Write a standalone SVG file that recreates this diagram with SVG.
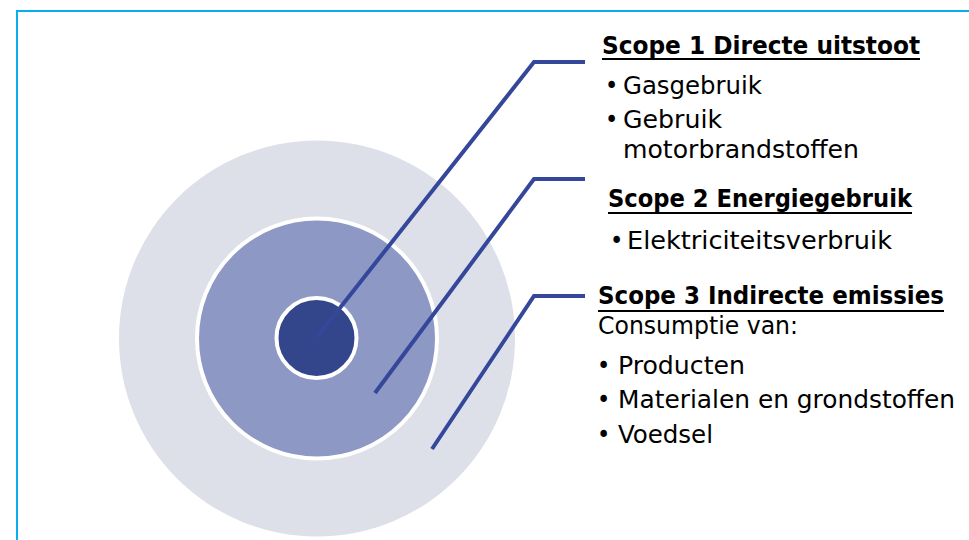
<svg xmlns="http://www.w3.org/2000/svg" width="969" height="540" viewBox="0 0 969 540">
  <style>
    .t{font-family:"DejaVu Sans Condensed","DejaVu Sans",Verdana,sans-serif;font-size:25px;fill:#000}
    .b{font-weight:bold}
    .ul{stroke:#000;stroke-width:2}
    .conn{fill:none;stroke:#34479A;stroke-width:4;stroke-linejoin:miter}
  </style>
  <rect x="0" y="0" width="969" height="540" fill="#fff"/>
  <rect x="17" y="11" width="1000" height="600" fill="none" stroke="#0AAEEF" stroke-width="2"/>
  <g id="scope3-ring"><circle cx="317" cy="338.5" r="198" fill="#DDE0E8"/></g>
  <g id="scope2-ring"><circle cx="317" cy="338.5" r="120" fill="#8E98C4" stroke="#fff" stroke-width="4"/></g>
  <g id="scope1-core"><circle cx="316.5" cy="338" r="40" fill="#33468C" stroke="#fff" stroke-width="4"/></g>
  <g id="connectors">
    <polyline class="conn" points="317,337 534,62 585,62"/>
    <polyline class="conn" points="375,393 534,179 585,179"/>
    <polyline class="conn" points="432,449 534,296 585,296"/>
  </g>
  <g id="scope1-label">
    <text class="t b" x="602" y="54" textLength="318" lengthAdjust="spacingAndGlyphs">Scope 1 Directe uitstoot</text>
    <line class="ul" x1="602" y1="59" x2="920" y2="59"/>
    <text class="t" x="605" y="94">•</text>
    <text class="t" x="623" y="94" textLength="139" lengthAdjust="spacingAndGlyphs">Gasgebruik</text>
    <text class="t" x="605" y="128">•</text>
    <text class="t" x="623" y="128" textLength="99" lengthAdjust="spacingAndGlyphs">Gebruik</text>
    <text class="t" x="623" y="158" textLength="236" lengthAdjust="spacingAndGlyphs">motorbrandstoffen</text>
  </g>
  <g id="scope2-label">
    <text class="t b" x="608" y="207" textLength="304" lengthAdjust="spacingAndGlyphs">Scope 2 Energiegebruik</text>
    <line class="ul" x1="608" y1="213" x2="912" y2="213"/>
    <text class="t" x="610" y="249">•</text>
    <text class="t" x="627" y="249" textLength="265" lengthAdjust="spacingAndGlyphs">Elektriciteitsverbruik</text>
  </g>
  <g id="scope3-label">
    <text class="t b" x="598" y="304" textLength="346" lengthAdjust="spacingAndGlyphs">Scope 3 Indirecte emissies</text>
    <line class="ul" x1="598" y1="311" x2="944" y2="311"/>
    <text class="t" x="598" y="334" textLength="200" lengthAdjust="spacingAndGlyphs">Consumptie van:</text>
    <text class="t" x="597" y="374">•</text>
    <text class="t" x="618" y="374" textLength="127" lengthAdjust="spacingAndGlyphs">Producten</text>
    <text class="t" x="597" y="408">•</text>
    <text class="t" x="618" y="408" textLength="337" lengthAdjust="spacingAndGlyphs">Materialen en grondstoffen</text>
    <text class="t" x="597" y="443">•</text>
    <text class="t" x="618" y="443" textLength="95" lengthAdjust="spacingAndGlyphs">Voedsel</text>
  </g>
</svg>
